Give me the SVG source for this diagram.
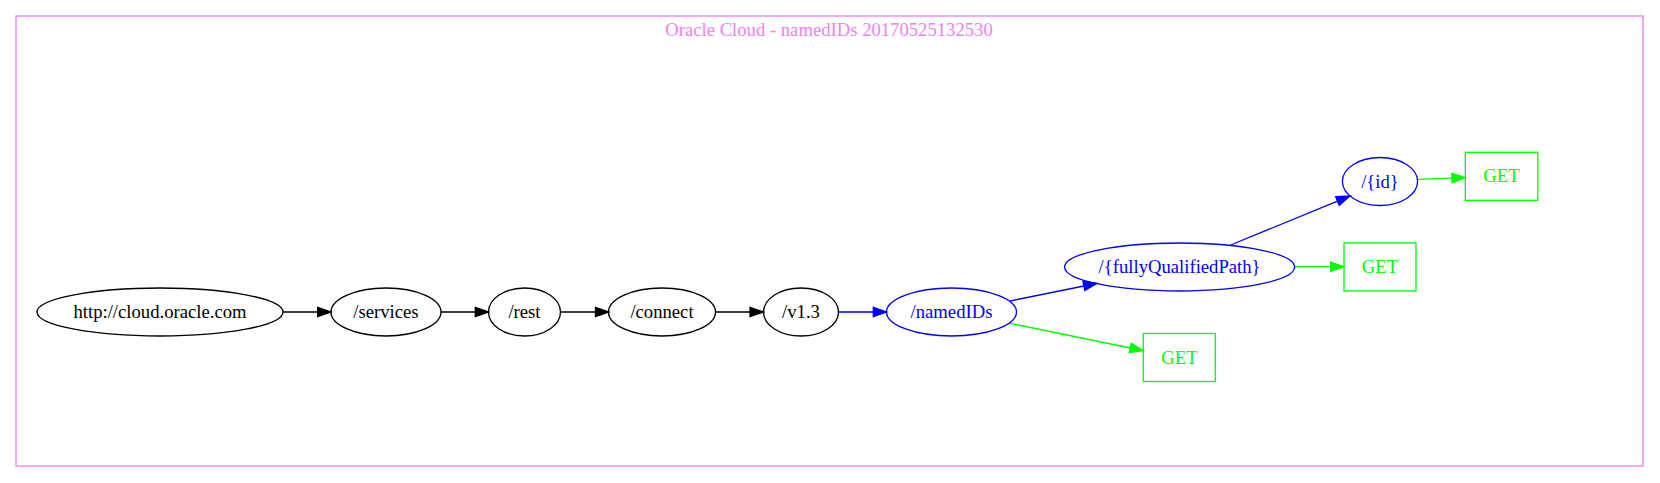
<svg xmlns="http://www.w3.org/2000/svg" width="1660" height="483" viewBox="0 0 1660 483">
<style>
text{font-family:"Liberation Serif","Times New Roman",serif;font-size:18.67px;text-anchor:middle}
.n ellipse,.n rect{fill:none;stroke-width:1.33}
.k ellipse{stroke:#000}.k text{fill:#000}
.b ellipse{stroke:#0000ff}.b text{fill:#0000ff}
.g rect{stroke:#00ff00}.g text{fill:#00ff00}
.e{fill:none;stroke-width:1.33}
</style>
<defs>
<marker id="ak" markerUnits="userSpaceOnUse" markerWidth="14" markerHeight="10" refX="0" refY="4.67" orient="auto" overflow="visible"><polygon points="0,0 13.33,4.67 0,9.33" fill="#000" stroke="#000" stroke-width="1.33"/></marker>
<marker id="ab" markerUnits="userSpaceOnUse" markerWidth="14" markerHeight="10" refX="0" refY="4.67" orient="auto" overflow="visible"><polygon points="0,0 13.33,4.67 0,9.33" fill="#0000ff" stroke="#0000ff" stroke-width="1.33"/></marker>
<marker id="ag" markerUnits="userSpaceOnUse" markerWidth="14" markerHeight="10" refX="0" refY="4.67" orient="auto" overflow="visible"><polygon points="0,0 13.33,4.67 0,9.33" fill="#00ff00" stroke="#00ff00" stroke-width="1.33"/></marker>
</defs>
<rect width="1660" height="483" fill="#fff"/>
<g id="cluster">
<rect x="16" y="16" width="1627" height="450" fill="none" stroke="#ee82ee" stroke-width="1.33"/>
<text x="829" y="36" fill="#ee82ee">Oracle Cloud - namedIDs 20170525132530</text>
</g>
<g id="edges">
<path class="e" d="M283,312 L317.7,312" stroke="#000" marker-end="url(#ak)"/>
<path class="e" d="M441,312 L475.3,312" stroke="#000" marker-end="url(#ak)"/>
<path class="e" d="M560.5,312 L595.5,312" stroke="#000" marker-end="url(#ak)"/>
<path class="e" d="M716,312 L750,312" stroke="#000" marker-end="url(#ak)"/>
<path class="e" d="M838.5,312 L873.3,312" stroke="#0000ff" marker-end="url(#ab)"/>
<path class="e" d="M1010,301 L1083.9,286" stroke="#0000ff" marker-end="url(#ab)"/>
<path class="e" d="M1010,323.3 L1130.3,348" stroke="#00ff00" marker-end="url(#ag)"/>
<path class="e" d="M1230.7,245 L1337.5,201.1" stroke="#0000ff" marker-end="url(#ab)"/>
<path class="e" d="M1294.8,266.7 L1330.7,266.7" stroke="#00ff00" marker-end="url(#ag)"/>
<path class="e" d="M1417.6,179.3 L1452,178.1" stroke="#00ff00" marker-end="url(#ag)"/>
</g>
<g id="n_root" class="n k"><ellipse cx="160" cy="312" rx="123" ry="24"/><text x="160" y="318">http://cloud.oracle.com</text></g>
<g id="n_services" class="n k"><ellipse cx="386" cy="312" rx="55" ry="24"/><text x="386" y="318">/services</text></g>
<g id="n_rest" class="n k"><ellipse cx="524.5" cy="312" rx="36" ry="24"/><text x="524.5" y="318">/rest</text></g>
<g id="n_connect" class="n k"><ellipse cx="662" cy="312" rx="53.5" ry="24"/><text x="662" y="318">/connect</text></g>
<g id="n_v13" class="n k"><ellipse cx="801" cy="312" rx="37.5" ry="24"/><text x="801" y="318">/v1.3</text></g>
<g id="n_namedIDs" class="n b"><ellipse cx="951.5" cy="312" rx="65" ry="24"/><text x="951.5" y="318">/namedIDs</text></g>
<g id="n_fqp" class="n b"><ellipse cx="1179.6" cy="267" rx="115" ry="24"/><text x="1179.6" y="273">/{fullyQualifiedPath}</text></g>
<g id="n_id" class="n b"><ellipse cx="1380" cy="181.5" rx="37.6" ry="24"/><text x="1380" y="187.5">/{id}</text></g>
<g id="n_get_id" class="n g"><rect x="1465.3" y="152.3" width="72.5" height="48"/><text x="1501.5" y="182.3">GET</text></g>
<g id="n_get_fqp" class="n g"><rect x="1344" y="243" width="72" height="48"/><text x="1380" y="273">GET</text></g>
<g id="n_get_named" class="n g"><rect x="1143.4" y="333.5" width="72" height="48"/><text x="1179.4" y="363.5">GET</text></g>
</svg>
